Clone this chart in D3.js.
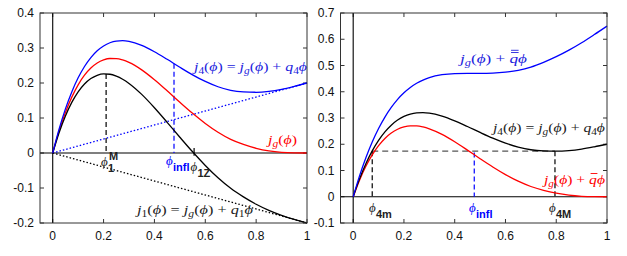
<!DOCTYPE html>
<html><head><meta charset="utf-8">
<script src="https://cdn.jsdelivr.net/npm/d3@7"></script>
<style>body{margin:0;background:#fff}svg{display:block}</style>
</head><body>
<svg id="c" width="627" height="256"></svg>
<script>
// ---- data ----
const phi = [0,0.025,0.05,0.075,0.1,0.125,0.15,0.175,0.2,0.225,0.25,0.275,0.3,0.35,0.4,0.45,0.5,0.55,0.6,0.65,0.7,0.75,0.8,0.85,0.9,0.95,1];
const jg  = [0,0.0631,0.1160,0.1596,0.1948,0.2222,0.2427,0.2571,0.2659,0.2700,0.2697,0.2658,0.2588,0.2375,0.2094,0.1777,0.1450,0.1134,0.0845,0.0593,0.0390,0.0245,0.0135,0.0060,0.0018,0.0003,0];
const j4  = [0,0.0681,0.1260,0.1746,0.2148,0.2472,0.2727,0.2921,0.3059,0.3150,0.3197,0.3208,0.3188,0.3075,0.2894,0.2677,0.2450,0.2234,0.2045,0.1893,0.1790,0.1745,0.1735,0.1760,0.1818,0.1903,0.2];
const j1  = [0,0.0581,0.1060,0.1446,0.1748,0.1972,0.2127,0.2221,0.2259,0.2250,0.2197,0.2108,0.1988,0.1675,0.1294,0.0877,0.0450,0.0034,-0.0355,-0.0707,-0.1010,-0.1255,-0.1465,-0.1640,-0.1782,-0.1897,-0.2];
const jqq = [0,0.0794,0.1485,0.2084,0.2598,0.3035,0.3402,0.3709,0.3959,0.4163,0.4322,0.4446,0.4538,0.4650,0.4694,0.4702,0.4700,0.4709,0.4745,0.4818,0.4940,0.5120,0.5335,0.5585,0.5868,0.6178,0.65];
const q4line = [[0,0],[1,0.2]];
const q1line = [[0,0],[1,-0.2]];
const xTicks = [0,0.2,0.4,0.6,0.8,1];
const xTickLabels = ["0","0.2","0.4","0.6","0.8","1"];
const yTicksL = [-0.2,-0.1,0,0.1,0.2,0.3,0.4];
const yTickLabelsL = ["-0.2","-0.1","0","0.1","0.2","0.3","0.4"];
const yTicksR = [-0.1,0,0.1,0.2,0.3,0.4,0.5,0.6,0.7];
const yTickLabelsR = ["-0.1","0","0.1","0.2","0.3","0.4","0.5","0.6","0.7"];
// special points
const phi1M = 0.21, j1M = 0.2259;
const phiInfl = 0.477, j4Infl = 0.255;
const phi1Z = 0.556;
const phi4m = 0.075, phi4M = 0.795, j4Level = 0.1735;

const svg = d3.select("#c");
const sans = "'Liberation Sans', Arial, sans-serif";
const serif = "'Liberation Serif', 'DejaVu Serif', serif";
const phiFont = "'Liberation Serif', 'Noto Sans', 'DejaVu Serif', serif";
const PH = "\u03D5";

function panel(xr, yd, yr, yTicks, yLabels){
  const x = d3.scaleLinear().domain([-0.05,1]).range(xr);
  const y = d3.scaleLinear().domain(yd).range(yr);
  const g = svg.append("g");
  const [x0,x1] = xr, [yb,yt] = yr;
  g.selectAll(".yl").data(yTicks).enter().append("text")
    .attr("x", x0-6).attr("y", d=>y(d)+4).attr("text-anchor","end")
    .attr("font-family",sans).attr("font-size",12).attr("fill","#111")
    .text((d,i)=>yLabels[i]);
  g.selectAll(".xl").data(xTicks).enter().append("text")
    .attr("x", d=>x(d)).attr("y", yb+17).attr("text-anchor","middle")
    .attr("font-family",sans).attr("font-size",12).attr("fill","#111")
    .text((d,i)=>xTickLabels[i]);
  const tk = 4;
  xTicks.forEach(t=>{
    g.append("line").attr("x1",x(t)).attr("x2",x(t)).attr("y1",yb).attr("y2",yb-tk).attr("stroke","#333");
    g.append("line").attr("x1",x(t)).attr("x2",x(t)).attr("y1",yt).attr("y2",yt+tk).attr("stroke","#333");
  });
  yTicks.forEach(t=>{
    g.append("line").attr("y1",y(t)).attr("y2",y(t)).attr("x1",x0).attr("x2",x0+tk).attr("stroke","#333");
    g.append("line").attr("y1",y(t)).attr("y2",y(t)).attr("x1",x1).attr("x2",x1-tk).attr("stroke","#333");
  });
  g.append("line").attr("x1",x(0)).attr("x2",x(0)).attr("y1",yb).attr("y2",yt).attr("stroke","#000").attr("stroke-width",1.1);
  g.append("line").attr("x1",x0).attr("x2",x1).attr("y1",y(0)).attr("y2",y(0)).attr("stroke","#000").attr("stroke-width",1.1);
  return {x,y,g,frame:()=>g.append("rect").attr("x",x0).attr("y",yt).attr("width",x1-x0).attr("height",yb-yt)
    .attr("fill","none").attr("stroke","#333").attr("stroke-width",1)};
}

function curve(p, vals, color, w){
  const line = d3.line().x((d,i)=>p.x(phi[i])).y(d=>p.y(d)).curve(d3.curveMonotoneX);
  p.g.append("path").attr("d", line(vals)).attr("fill","none").attr("stroke",color).attr("stroke-width",w||1.3);
}
function seg(p, a, b, color, dash, w){
  p.g.append("line").attr("x1",p.x(a[0])).attr("y1",p.y(a[1])).attr("x2",p.x(b[0])).attr("y2",p.y(b[1]))
   .attr("stroke",color).attr("stroke-dasharray",dash||null).attr("stroke-width",w||1.1);
}
// math text: tokens [text, style]: 'i' italic, 'u' upright, 'si' sub italic, 'su' sub upright
function mtext(p, xpos, ypos, toks, color, size, anchor, len){
  const t = p.g.append("text").attr("x",xpos).attr("y",ypos).attr("fill",color)
    .attr("font-size",size).attr("text-anchor",anchor||"start").attr("font-family",serif);
  let shifted = false;
  toks.forEach(([s,st])=>{
    const ts = t.append("tspan").text(s);
    const isSub = st[0]==="s";
    const it = st.endsWith("i");
    ts.attr("font-style", it?"italic":"normal");
    if(s===PH){ts.attr("font-family",phiFont);}
    if(isSub){ts.attr("font-size",size*0.72); if(!shifted){ts.attr("dy",size*0.25); shifted=true;}}
    else if(shifted){ts.attr("dy",-size*0.25); shifted=false;}
  });
  if(len){t.attr("textLength",len).attr("lengthAdjust","spacingAndGlyphs");}
  return t;
}
function jeq(sub){
  return [["j","i"],[sub,"su"],["(","u"],[PH,"i"],[") = ","u"],["j","i"],["g","si"],["(","u"],[PH,"i"],[") + ","u"],["q","i"],[sub,"su"],[PH,"i"]];
}
function overbar(p, textSel, charIdx, n, color){
  const node = textSel.node();
  try{
    const r = node.getExtentOfChar(charIdx);
    for(let k=0;k<n;k++){
      const yy = r.y + 1.5 - k*2.2;
      p.g.append("line").attr("x1",r.x+1.5).attr("x2",r.x+r.width+0.5).attr("y1",yy).attr("y2",yy)
        .attr("stroke",color).attr("stroke-width",0.9);
    }
  }catch(e){}
}

// ---------- LEFT ----------
const L = panel([40,307],[-0.2,0.4],[223,13],yTicksL,yTickLabelsL);
seg(L,q4line[0],q4line[1],"#0000ff","1.5,2",1.3);
seg(L,q1line[0],q1line[1],"#000","1.5,2",1.3);
seg(L,[phi1M,j1M],[phi1M,0],"#000","5,3",1.2);
seg(L,[phiInfl,j4Infl],[phiInfl,0],"#0000ff","5,3",1.2);
seg(L,[phi1Z,0.014],[phi1Z,-0.008],"#000",null,1.2);
curve(L,jg,"#ff0000");
curve(L,j1,"#000");
curve(L,j4,"#0000ff");
L.frame();
mtext(L,307,71,jeq("4"),"#2222dd",13,"end",113);
mtext(L,297,144,[["j","i"],["g","si"],["(","u"],[PH,"i"],[")","u"]],"#ff0000",13,"end",29);
mtext(L,253,214,jeq("1"),"#222",13,"end",116);
function philabel(p, xpos, ypos, sub, sup, color){
  p.g.append("text").attr("x",xpos).attr("y",ypos).attr("fill",color).attr("font-size",13)
    .attr("font-family",phiFont).attr("font-style","italic").text(PH);
  const w = 7;
  p.g.append("text").attr("x",xpos+w).attr("y",ypos+6).attr("fill",color).attr("font-size",11)
    .attr("font-family",sans).attr("font-weight","bold").text(sub);
  if(sup){p.g.append("text").attr("x",xpos+w+1).attr("y",ypos-6).attr("fill",color).attr("font-size",11)
    .attr("font-family",sans).attr("font-weight","bold").text(sup);}
}
philabel(L,101,166,"1","M","#222");
philabel(L,166,165,"infl",null,"#0000ff");
philabel(L,190.5,171,"1Z",null,"#222");

// ---------- RIGHT ----------
const R = panel([340.5,607],[-0.1,0.7],[223,13],yTicksR,yTickLabelsR);
seg(R,[phi4m,j4Level],[phi4M,j4Level],"#555","6,4",1.3);
seg(R,[phi4m,j4Level],[phi4m,0],"#000","5,3",1.2);
seg(R,[phi4M,j4Level],[phi4M,0],"#000","5,3",1.2);
seg(R,[phiInfl,j4Level-0.005],[phiInfl,0],"#0000ff","5,3",1.2);
curve(R,jg,"#ff0000");
curve(R,j4,"#000");
curve(R,jqq,"#0000ff");
R.frame();
const tq2 = mtext(R,527,63,[["j","i"],["g","si"],["(","u"],[PH,"i"],[") + ","u"],["q","i"],[PH,"i"]],"#2222dd",13,"end",67);
overbar(R,tq2,8,2,"#2222dd");
mtext(R,605,132,jeq("4"),"#222",13,"end",112);
const tq1 = mtext(R,605,184,[["j","i"],["g","si"],["(","u"],[PH,"i"],[") + ","u"],["q","i"],[PH,"i"]],"#ff0000",13,"end",61);
overbar(R,tq1,8,1,"#ff0000");
philabel(R,369,212,"4m",null,"#222");
philabel(R,469,212,"infl",null,"#0000ff");
philabel(R,549,212,"4M",null,"#222");
</script>
</body></html>
